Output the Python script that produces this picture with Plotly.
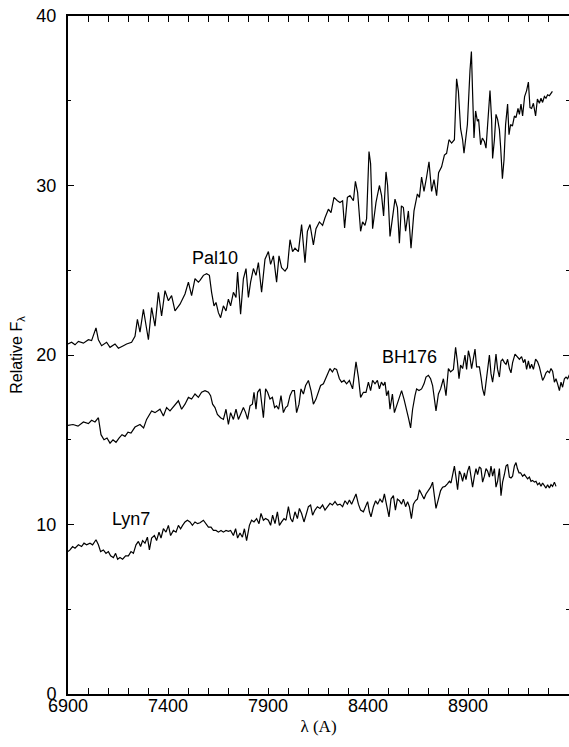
import plotly.graph_objects as go

# Wavelength grid (Angstrom) and relative flux for each cluster spectrum
pal10_wl = [6900, 6918, 6935, 6952, 6977, 7002, 7018, 7040, 7052, 7068, 7093, 7110, 7135, 7152, 7177, 7193,
            7218, 7235, 7247, 7260, 7277, 7302, 7318, 7335, 7352, 7368, 7385, 7402, 7418, 7435, 7460, 7485,
            7502, 7518, 7535, 7552, 7560, 7577, 7593, 7607, 7618, 7630, 7640, 7652, 7663, 7677, 7690, 7702,
            7713, 7727, 7740, 7748, 7763, 7777, 7790, 7802, 7813, 7827, 7840, 7852, 7868, 7885, 7902, 7913,
            7927, 7943, 7955, 7968, 7985, 7997, 8010, 8023, 8035, 8052, 8068, 8085, 8097, 8110, 8127, 8140,
            8157, 8173, 8185, 8202, 8215, 8230, 8247, 8260, 8273, 8283, 8297, 8310, 8327, 8337, 8348, 8363,
            8373, 8385, 8393, 8405, 8413, 8423, 8440, 8447, 8457, 8468, 8478, 8490, 8498, 8510, 8523, 8535,
            8547, 8557, 8567, 8577, 8588, 8602, 8615, 8630, 8647, 8657, 8668, 8680, 8693, 8705, 8718, 8730,
            8743, 8753, 8768, 8782, 8793, 8805, 8818, 8832, 8843, 8852, 8863, 8873, 8880, 8888, 8897, 8910,
            8917, 8923, 8930, 8938, 8947, 8953, 8963, 8972, 8982, 8990, 9000, 9010, 9018, 9023, 9032, 9040,
            9048, 9057, 9063, 9072, 9080, 9088, 9098, 9105, 9113, 9122, 9132, 9140, 9150, 9157, 9165, 9173,
            9183, 9193, 9202, 9210, 9218, 9227, 9238, 9247, 9257, 9265, 9273, 9282, 9290, 9298, 9307, 9315,
            9322]
pal10_flux = [20.65, 20.75, 20.6, 20.8, 20.7, 20.9, 20.85, 21.6, 20.9, 20.55, 20.75, 20.45, 20.65, 20.4, 20.55, 20.65,
              20.75, 21.1, 22.1, 21.35, 22.7, 20.9, 22.8, 21.7, 23.7, 22.3, 23.8, 23.2, 23.5, 22.6, 23.0, 23.6,
              24.3, 23.5, 24.5, 24.3, 24.4, 24.7, 24.8, 24.7, 23.7, 22.9, 23.1, 22.5, 22.2, 22.9, 22.6, 23.3,
              22.9, 23.7, 23.4, 24.9, 22.4, 24.5, 25.1, 23.4, 24.3, 25.1, 24.7, 25.45, 23.7, 25.65, 26.1, 25.35,
              25.85, 24.3, 25.85, 25.15, 24.95, 25.15, 26.8, 26.1, 26.3, 26.1, 27.7, 25.45, 27.3, 27.7, 26.5, 27.45,
              27.85, 27.65, 28.1, 28.6, 28.4, 29.3, 29.1, 29.0, 29.1, 27.5, 29.3, 29.4, 29.1, 30.25, 29.6, 27.3,
              27.85, 27.65, 28.05, 32.0, 31.3, 27.45, 29.0, 29.5, 30.0, 29.4, 28.2, 30.8, 30.0, 27.0, 28.2, 29.2,
              28.7, 26.6, 28.8, 28.7, 27.3, 28.5, 26.3, 28.5, 29.5, 29.3, 30.5, 29.65, 30.5, 31.4, 29.65, 30.35,
              29.4, 30.75, 31.1, 31.8, 31.9, 32.7, 32.5, 32.7, 36.3, 35.55, 33.35, 32.7, 31.9, 32.6, 33.6, 36.8,
              37.9, 35.45, 32.8, 34.4, 33.8, 33.9, 32.4, 32.8, 32.6, 32.2, 33.9, 35.6, 33.9, 31.6, 32.7, 34.2,
              33.9, 33.3, 32.3, 30.4, 31.5, 33.6, 34.8, 33.0, 33.6, 33.5, 34.1, 34.0, 34.55, 34.2, 34.8, 34.1,
              35.25, 35.6, 36.1, 34.6, 34.55, 34.85, 34.1, 35.1, 34.85, 35.15, 34.9, 35.25, 35.15, 35.35, 35.3, 35.45,
              35.55]

bh176_wl = [6900, 6925, 6950, 6977, 7002, 7018, 7035, 7052, 7065, 7080, 7095, 7110, 7125, 7140, 7155, 7170,
            7185, 7200, 7215, 7235, 7260, 7278, 7293, 7318, 7335, 7360, 7377, 7393, 7410, 7435, 7452, 7468,
            7485, 7502, 7518, 7535, 7552, 7568, 7585, 7602, 7613, 7623, 7635, 7647, 7663, 7677, 7690, 7702,
            7713, 7727, 7740, 7752, 7763, 7777, 7788, 7798, 7810, 7822, 7830, 7840, 7848, 7860, 7868, 7877,
            7888, 7898, 7910, 7922, 7933, 7943, 7953, 7965, 7977, 7988, 7998, 8010, 8022, 8032, 8043, 8055,
            8065, 8077, 8088, 8102, 8115, 8127, 8140, 8152, 8163, 8177, 8188, 8198, 8210, 8222, 8232, 8243,
            8257, 8268, 8280, 8293, 8307, 8323, 8333, 8340, 8352, 8363, 8377, 8390, 8402, 8413, 8423, 8435,
            8447, 8457, 8467, 8477, 8485, 8493, 8502, 8510, 8522, 8532, 8543, 8555, 8568, 8580, 8590, 8602,
            8613, 8623, 8635, 8643, 8655, 8668, 8680, 8690, 8702, 8713, 8723, 8732, 8740, 8752, 8763, 8777,
            8790, 8802, 8813, 8827, 8838, 8847, 8855, 8863, 8873, 8885, 8893, 8902, 8910, 8918, 8927, 8935,
            8943, 8957, 8965, 8973, 8982, 8990, 8998, 9007, 9015, 9023, 9032, 9040, 9048, 9057, 9065, 9073,
            9082, 9090, 9098, 9107, 9115, 9123, 9135, 9147, 9157, 9168, 9177, 9185, 9193, 9202, 9210, 9218,
            9227, 9238, 9248, 9257, 9265, 9273, 9282, 9290, 9298, 9307, 9315, 9323, 9332, 9340, 9348, 9357,
            9365, 9373, 9382, 9390, 9398, 9410]
bh176_flux = [15.85, 15.9, 15.8, 16.05, 15.95, 16.15, 16.05, 16.3, 15.3, 15.0, 15.1, 14.8, 15.0, 14.85, 15.1, 15.3,
              15.2, 15.45, 15.4, 15.75, 15.9, 15.7, 16.2, 16.7, 16.6, 16.8, 16.4, 16.9, 16.7, 17.1, 17.3, 16.8,
              17.1, 17.5, 17.4, 17.7, 17.5, 17.8, 17.9, 17.8, 17.6, 17.1, 16.9, 16.5, 16.3, 16.2, 16.8, 15.9,
              16.6, 16.2, 16.8, 16.2, 16.5, 16.9, 16.6, 16.2, 17.0, 17.1, 17.8, 16.8, 17.8, 18.0, 17.2, 16.3,
              18.0, 17.8, 17.4, 17.5, 16.9, 17.0, 16.8, 17.6, 16.6, 16.9, 17.0, 17.6, 17.9, 17.9, 16.6, 17.1,
              18.0, 17.7, 18.2, 18.5, 17.9, 17.1, 17.4, 17.8, 18.2, 18.3, 18.6, 18.8, 19.2, 19.0, 19.2, 19.15,
              18.6, 18.4, 18.5, 18.3, 18.5, 18.0, 19.2, 19.6, 18.7, 17.5, 17.8, 17.8, 18.4, 17.9, 18.5, 18.3,
              18.5, 18.0, 18.4, 18.2, 18.4, 17.6, 17.9, 16.8, 17.7, 16.6, 17.0, 17.4, 17.9, 17.4, 16.8, 16.3,
              15.7, 16.8, 17.6, 18.0, 17.9, 18.0, 18.3, 18.7, 18.8, 18.6, 18.2, 17.4, 16.7, 17.7, 18.0, 18.6,
              17.6, 19.2, 19.0, 19.15, 20.45, 19.6, 18.6, 19.4, 19.2, 20.0, 19.15, 20.25, 19.85, 19.2, 19.75, 20.35,
              19.3, 19.3, 18.7, 18.0, 17.6, 18.4, 19.15, 20.0, 18.9, 18.4, 19.15, 20.05, 19.15, 18.7, 19.65, 19.75,
              19.55, 19.45, 19.75, 19.2, 18.95, 19.55, 20.05, 19.9, 19.75, 19.9, 19.55, 19.75, 19.15, 19.65, 19.2, 19.45,
              19.15, 19.75, 19.6, 19.3, 18.95, 18.5, 18.7, 18.95, 19.05, 18.95, 19.2, 19.05, 18.4, 18.6, 18.3, 17.9,
              18.4, 18.1, 18.6, 18.7, 18.6, 18.9]

lyn7_wl = [6900, 6910, 6923, 6935, 6952, 6968, 6980, 6993, 7010, 7023, 7040, 7052, 7063, 7077, 7090, 7102,
           7113, 7127, 7138, 7148, 7160, 7173, 7188, 7202, 7215, 7227, 7240, 7252, 7263, 7273, 7285, 7297,
           7307, 7318, 7332, 7343, 7355, 7365, 7377, 7390, 7402, 7413, 7427, 7440, 7452, 7463, 7473, 7485,
           7497, 7510, 7522, 7535, 7548, 7560, 7577, 7590, 7602, 7615, 7627, 7640, 7652, 7665, 7677, 7690,
           7702, 7713, 7727, 7738, 7748, 7760, 7772, 7782, 7793, 7807, 7818, 7830, 7843, 7855, 7865, 7877,
           7888, 7902, 7913, 7923, 7935, 7947, 7957, 7968, 7980, 7990, 8002, 8013, 8023, 8035, 8047, 8057,
           8068, 8080, 8090, 8102, 8113, 8123, 8135, 8147, 8160, 8173, 8185, 8197, 8210, 8222, 8235, 8247,
           8260, 8273, 8285, 8297, 8307, 8318, 8330, 8340, 8352, 8363, 8377, 8388, 8398, 8407, 8415, 8427,
           8438, 8448, 8460, 8472, 8482, 8493, 8505, 8515, 8527, 8537, 8547, 8557, 8568, 8577, 8588, 8598,
           8607, 8617, 8627, 8637, 8647, 8657, 8668, 8680, 8690, 8702, 8713, 8723, 8732, 8740, 8752, 8763,
           8773, 8785, 8797, 8807, 8815, 8823, 8832, 8840, 8848, 8857, 8865, 8873, 8882, 8890, 8898, 8907,
           8915, 8923, 8932, 8940, 8948, 8957, 8965, 8973, 8982, 8990, 8998, 9007, 9015, 9023, 9032, 9040,
           9048, 9057, 9065, 9073, 9082, 9090, 9098, 9107, 9115, 9123, 9132, 9140, 9147, 9155, 9163, 9173,
           9182, 9190, 9198, 9207, 9215, 9223, 9232, 9240, 9248, 9257, 9265, 9273, 9282, 9290, 9298, 9307,
           9315, 9323, 9332, 9340]
lyn7_flux = [8.4, 8.5, 8.7, 8.6, 8.8, 8.7, 8.9, 8.8, 8.9, 8.8, 9.1, 8.8, 8.4, 8.5, 8.3, 8.4,
             8.15, 8.05, 8.3, 7.95, 8.05, 7.95, 8.15, 8.15, 8.4, 8.3, 8.8, 9.0, 8.7, 9.05, 8.9, 9.25,
             8.5, 9.2, 9.35, 9.05, 9.55, 9.2, 9.75, 9.55, 9.95, 9.35, 9.65, 9.55, 9.95, 9.75, 9.95, 10.15,
             10.25, 10.15, 9.95, 10.15, 10.05, 10.1, 10.25, 10.05, 9.85, 9.85, 9.65, 9.65, 9.55, 9.65, 9.55, 9.65,
             9.6, 9.65, 9.35, 9.75, 9.2, 9.5, 9.25, 9.75, 9.05, 9.95, 10.25, 10.15, 10.35, 10.05, 10.65, 10.25,
             10.35, 10.25, 9.95, 10.55, 10.05, 10.75, 9.95, 10.15, 10.35, 10.25, 11.05, 10.35, 10.15, 10.75, 10.35, 10.95,
             10.65, 10.15, 10.55, 11.05, 11.15, 10.55, 10.85, 11.05, 10.95, 11.15, 10.85, 11.05, 11.25, 11.15, 11.35, 11.15,
             11.2, 11.05, 11.4, 11.2, 11.45, 11.2, 11.5, 11.8, 11.2, 10.85, 10.75, 11.05, 11.35, 10.75, 10.45, 11.05,
             11.4, 11.2, 11.5, 11.3, 11.8, 11.15, 10.45, 11.5, 11.7, 10.85, 11.5, 11.4, 11.2, 11.5, 11.05, 11.35,
             11.05, 10.35, 11.2, 11.4, 11.5, 12.05, 11.8, 11.5, 11.8, 12.0, 12.2, 12.5, 11.7, 10.95, 11.5, 12.0,
             12.2, 12.25, 12.4, 12.55, 12.45, 13.05, 13.45, 12.8, 12.05, 13.15, 12.95, 12.55, 13.05, 12.65, 13.15, 13.45,
             12.85, 12.2, 12.85, 13.3, 12.95, 13.4, 13.3, 12.5, 12.85, 13.3, 13.15, 12.8, 13.45, 12.85, 13.3, 12.2,
             12.55, 13.3, 11.7, 12.5, 12.95, 13.45, 13.55, 12.8, 12.75, 12.85, 13.45, 13.65, 13.3, 13.05, 13.05, 12.85,
             12.95, 12.8, 12.7, 12.8, 12.55, 12.6, 12.5, 12.55, 12.35, 12.45, 12.25, 12.45, 12.25, 12.15, 12.35, 12.15,
             12.35, 12.25, 12.5, 12.25]

# Cluster name labels placed beside each spectrum
label_names = ["Pal10", "BH176", "Lyn7"]
label_wl = [7635, 8605, 7215]
label_flux = [25.75, 19.9, 10.35]

x_ticks = [6900, 7400, 7900, 8400, 8900]
y_ticks = [0, 10, 20, 30, 40]
x_range = [6900, 9405]
y_range = [0, 40]

SANS = "Liberation Sans, Arial, Helvetica, sans-serif"
SERIF = "Liberation Serif, Times New Roman, serif"

fig = go.Figure()
for wl, fl in [(pal10_wl, pal10_flux), (bh176_wl, bh176_flux), (lyn7_wl, lyn7_flux)]:
    fig.add_trace(go.Scatter(x=wl, y=fl, mode="lines",
                             line=dict(color="black", width=1.2),
                             showlegend=False, hoverinfo="skip"))

# invisible trace that carries the right-hand tick axis
fig.add_trace(go.Scatter(x=[x_range[0]], y=[y_range[0]], yaxis="y2", mode="markers",
                         marker=dict(opacity=0), showlegend=False, hoverinfo="skip"))

for name, wl, fl in zip(label_names, label_wl, label_flux):
    fig.add_annotation(x=wl, y=fl, text=name, showarrow=False,
                       xanchor="center", yanchor="middle",
                       font=dict(family=SANS, size=18, color="black"))

fig.update_layout(
    width=569, height=747,
    margin=dict(l=68, r=0, t=16, b=53),
    paper_bgcolor="white", plot_bgcolor="white",
    xaxis=dict(
        range=x_range, tickvals=x_ticks, ticktext=[str(v) for v in x_ticks],
        ticks="inside", ticklen=6, tickwidth=1, tickcolor="black",
        minor=dict(dtick=100, tick0=6900, ticks="inside", ticklen=3, tickwidth=1, tickcolor="black"),
        showline=True, linewidth=2, linecolor="black", mirror="allticks",
        showgrid=False, zeroline=False,
        tickfont=dict(family=SANS, size=18, color="black"),
        ticklabelstandoff=-6,
        title=dict(text="λ (A)", font=dict(family=SERIF, size=17, color="black"), standoff=6),
    ),
    yaxis=dict(
        range=y_range, tickvals=y_ticks, ticktext=[str(v) for v in y_ticks],
        ticks="inside", ticklen=6, tickwidth=1, tickcolor="black",
        minor=dict(dtick=5, tick0=0, ticks="inside", ticklen=3, tickwidth=1, tickcolor="black"),
        showline=True, linewidth=2, linecolor="black", mirror=False,
        showgrid=False, zeroline=False,
        tickfont=dict(family=SANS, size=18, color="black"),
        ticklabelstandoff=6,
        title=dict(text="Relative F<sub>λ</sub>", font=dict(family=SANS, size=16, color="black"), standoff=10),
    ),
    yaxis2=dict(
        range=y_range, overlaying="y", side="right", anchor="x",
        tickvals=y_ticks, showticklabels=False,
        ticks="inside", ticklen=6, tickwidth=1, tickcolor="black",
        minor=dict(dtick=5, tick0=0, ticks="inside", ticklen=3, tickwidth=1, tickcolor="black"),
        showline=False, showgrid=False, zeroline=False,
    ),
)

fig.write_html("out.html")
